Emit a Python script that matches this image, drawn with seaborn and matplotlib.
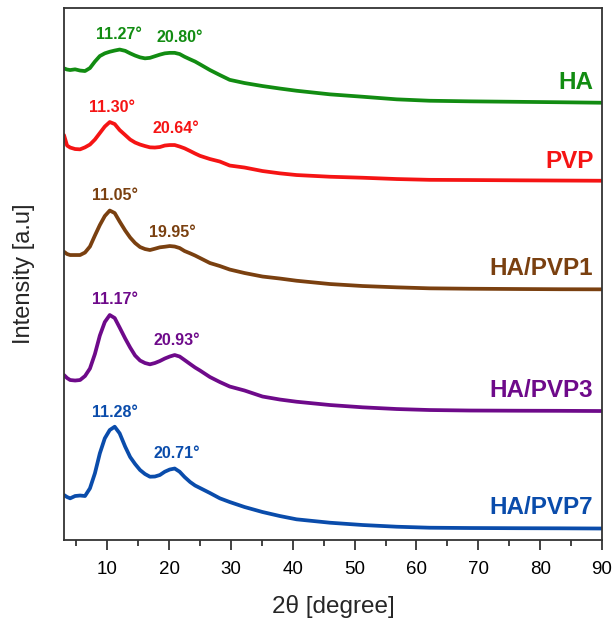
import matplotlib
matplotlib.use("Agg")
import matplotlib.pyplot as plt
import seaborn as sns
import pandas as pd
from matplotlib.ticker import MultipleLocator

# 2-theta grid (degree)
two_theta = [3.0, 3.5, 4.0, 4.8, 5.6, 6.4, 7.2, 8.0, 8.8, 9.6,
             10.4, 11.2, 12.0, 12.9, 13.7, 14.5, 15.3, 16.1, 16.9, 17.7,
             18.5, 19.3, 20.1, 20.9, 21.7, 22.5, 23.4, 24.2, 25.0, 26.6,
             28.2, 29.8, 32.2, 35.1, 37.9, 40.6, 46.0, 51.3, 56.8, 62.1,
             68.6, 76.7, 83.1, 90.0]

# intensities (a.u., stacked with offsets as in the figure)
ha = [471.7, 470.5, 470, 470.7, 469.5, 469, 472, 478.5, 484, 486.7,
      488.3, 489.5, 490.5, 489.2, 486.7, 484.5, 482.7, 481.7, 482.2, 483.8,
      485.4, 486.7, 487.2, 487.2, 486, 483.3, 480.7, 478.5, 475.7, 470,
      465, 460.2, 457, 454, 451.5, 449.3, 445.7, 443.3, 440.7, 439.3,
      438.7, 438.2, 437.8, 437.3]
pvp = [405, 394.5, 392.5, 391, 390.7, 392.7, 395.5, 400.5, 407, 413.5,
       418, 416, 410, 405, 400.5, 397.5, 395.5, 394, 392.7, 392.5,
       393, 394.5, 395, 395, 393.5, 391.7, 389, 386.5, 384.2, 381,
       378.5, 374.5, 372.5, 369, 366.7, 365, 363.3, 362.3, 361, 360.2,
       360, 359.7, 359.5, 359.3]
ha_pvp1 = [288.3, 286, 285, 285, 285, 287.5, 293.5, 304.5, 315, 324,
           329.5, 327, 318.5, 309.5, 302.5, 297, 293, 291, 290, 291.3,
           292.7, 293.3, 294, 293.5, 292, 289, 286.7, 284.5, 282, 277,
           274, 270.5, 267, 263.5, 261.5, 259.3, 256, 254, 252.7, 251.7,
           251.3, 251, 250.8, 250.7]
ha_pvp3 = [165, 162, 160, 159.5, 160, 164, 171.5, 186, 204.5, 218,
           225, 222, 212.5, 201.5, 192.5, 184.5, 179.5, 177, 175.7, 177,
           179, 181.5, 183.5, 185, 183.5, 180, 176, 172.5, 169.5, 163,
           158, 153.5, 149.5, 143.5, 140.5, 138.3, 135, 132.7, 131, 130,
           129.5, 129.3, 129.2, 129]
ha_pvp7 = [45, 43, 41.7, 44, 44.5, 44, 51.7, 66.7, 86.7, 101.7,
           110, 113.3, 106.7, 93.3, 83, 76, 70, 66, 63.3, 63.5,
           65, 68.3, 70.5, 71.5, 68.3, 63, 58, 54.5, 52, 47,
           41.7, 38, 33, 28, 24, 20.7, 17.3, 15, 13.3, 12.3,
           12, 11.8, 11.7, 11.5]

samples = ["HA", "PVP", "HA/PVP1", "HA/PVP3", "HA/PVP7"]
colors = ["#128c12", "#f51414", "#7a4010", "#6e0a8a", "#0a4cab"]

# peak annotations per sample
peak1_pos = [11.9, 10.8, 11.2, 11.2, 11.3]
peak1_y = [506, 433, 345, 241, 128]
peak1_txt = ["11.27°", "11.30°", "11.05°", "11.17°", "11.28°"]
peak2_pos = [21.7, 21.1, 20.6, 21.3, 21.2]
peak2_y = [503, 412, 308, 200, 87]
peak2_txt = ["20.80°", "20.64°", "19.95°", "20.93°", "20.71°"]
name_y = [458, 379, 272, 150, 33]

series = [ha, pvp, ha_pvp1, ha_pvp3, ha_pvp7]
rows = []
for name, vals in zip(samples, series):
    for x, v in zip(two_theta, vals):
        rows.append({"two_theta": x, "intensity": v, "sample": name})
df = pd.DataFrame(rows)

sns.set_style("ticks")
plt.rcParams["font.family"] = ["Liberation Sans", "DejaVu Sans"]

fig = plt.figure(figsize=(6.14, 6.19), dpi=100)
ax = fig.add_axes([0.1042, 0.1276, 0.8763, 0.8594])

sns.lineplot(data=df, x="two_theta", y="intensity", hue="sample",
             palette=dict(zip(samples, colors)), estimator=None, sort=False,
             linewidth=2.7, legend=False, ax=ax)
for ln in ax.lines:
    ln.set_solid_joinstyle("round")

for i, name in enumerate(samples):
    c = colors[i]
    ax.text(peak1_pos[i], peak1_y[i], peak1_txt[i], color=c, fontsize=11.5,
            fontweight="bold", ha="center", va="center")
    ax.text(peak2_pos[i], peak2_y[i], peak2_txt[i], color=c, fontsize=11.5,
            fontweight="bold", ha="center", va="center")
    ax.text(88.6, name_y[i], name, color=c, fontsize=17.5, fontweight="bold",
            ha="right", va="center")

ax.set_xlim(3, 90)
ax.set_ylim(0, 532)
ax.xaxis.set_major_locator(MultipleLocator(10))
ax.xaxis.set_minor_locator(MultipleLocator(5))
ax.set_xticks([10, 20, 30, 40, 50, 60, 70, 80, 90])
ax.set_yticks([])
ax.tick_params(axis="x", which="major", direction="out", length=7, width=1.2,
               labelsize=13.5, pad=8, colors="#222222", labelcolor="black")
ax.tick_params(axis="x", which="minor", direction="out", length=4, width=1.2,
               colors="#222222")
for s in ax.spines.values():
    s.set_visible(True)
    s.set_linewidth(1.3)
    s.set_color("#333333")

ax.set_xlabel("2θ [degree]", fontsize=17.5, labelpad=12)
ax.set_ylabel("Intensity [a.u]", fontsize=17, labelpad=21)

fig.savefig("out.png", dpi=100)
